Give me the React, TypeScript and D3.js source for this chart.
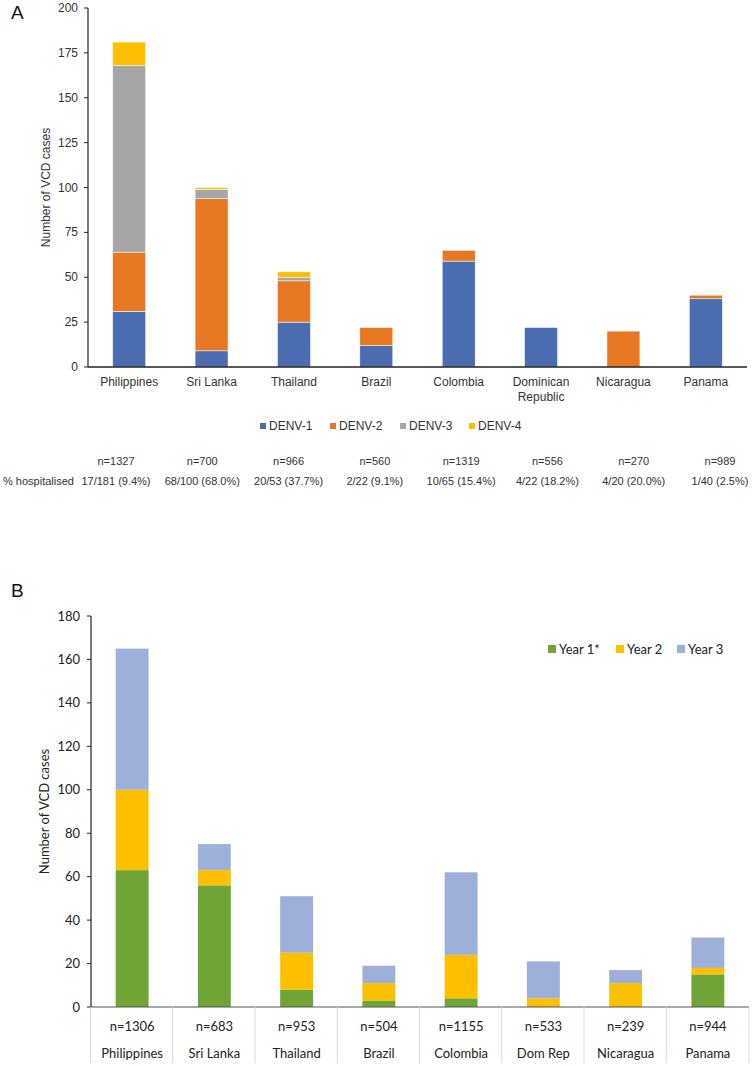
import React from "react";
import * as d3 from "d3";

// ---------- Panel A data ----------
const countriesA = ["Philippines", "Sri Lanka", "Thailand", "Brazil", "Colombia", "Dominican Republic", "Nicaragua", "Panama"];
const seroKeys = ["DENV-1", "DENV-2", "DENV-3", "DENV-4"];
const denv1 = [31, 9, 25, 12, 59, 22, 0, 38];
const denv2 = [33, 85, 23, 10, 6, 0, 20, 2];
const denv3 = [104, 5, 2, 0, 0, 0, 0, 0];
const denv4 = [13, 1, 3, 0, 0, 0, 0, 0];
const seroColors = ["#4a6db1", "#e67824", "#a7a5a5", "#fcc000"];
const ticksA = [0, 25, 50, 75, 100, 125, 150, 175, 200];
const nA = ["n=1327", "n=700", "n=966", "n=560", "n=1319", "n=556", "n=270", "n=989"];
const hospA = ["17/181 (9.4%)", "68/100 (68.0%)", "20/53 (37.7%)", "2/22 (9.1%)", "10/65 (15.4%)", "4/22 (18.2%)", "4/20 (20.0%)", "1/40 (2.5%)"];

// ---------- Panel B data ----------
const countriesB = ["Philippines", "Sri Lanka", "Thailand", "Brazil", "Colombia", "Dom Rep", "Nicaragua", "Panama"];
const yearKeys = ["Year 1*", "Year 2", "Year 3"];
const year1 = [63, 56, 8, 3, 4, 0, 0, 15];
const year2 = [37, 7, 17, 8, 20, 4, 11, 3];
const year3 = [65, 12, 26, 8, 38, 17, 6, 14];
const yearColors = ["#6fa536", "#fcc000", "#9db0da"];
const ticksB = [0, 20, 40, 60, 80, 100, 120, 140, 160, 180];
const nB = ["n=1306", "n=683", "n=953", "n=504", "n=1155", "n=533", "n=239", "n=944"];

const FA = "Arial, 'Liberation Sans', Helvetica, sans-serif";
const FB = "Lato, 'Open Sans', sans-serif";

export default function App() {
  // Panel A
  const rowsA = countriesA.map((c, i) => ({ c, "DENV-1": denv1[i], "DENV-2": denv2[i], "DENV-3": denv3[i], "DENV-4": denv4[i] }));
  const stackA = d3.stack<any>().keys(seroKeys)(rowsA);
  const xA = d3.scaleBand().domain(countriesA).range([88, 747]).paddingInner(0.6).paddingOuter(0.3);
  const yA = d3.scaleLinear().domain([0, 200]).range([367, 8]);
  const tableX = d3.scalePoint().domain(countriesA).range([116, 720]);

  // Panel B
  const rowsB = countriesB.map((c, i) => ({ c, "Year 1*": year1[i], "Year 2": year2[i], "Year 3": year3[i] }));
  const stackB = d3.stack<any>().keys(yearKeys)(rowsB);
  const xB = d3.scaleBand().domain(countriesB).range([91, 749]).paddingInner(0.6).paddingOuter(0.3);
  const yB = d3.scaleLinear().domain([0, 180]).range([1007, 616]);
  const legendAX = [260, 330, 400, 469];
  const legendBX = [548, 616, 677];

  return (
    <svg width={755} height={1066} style={{ position: "absolute", left: 0, top: 0, background: "#fff" }}>
      {/* ===== Panel A ===== */}
      <text x={11} y={19} fontFamily={FA} fontSize={19} fill="#111">A</text>
      {stackA.map((layer, li) => (
        <g key={layer.key}>
          {layer.map((d, i) =>
            d[1] - d[0] > 0 ? (
              <rect key={i} x={xA(countriesA[i])} width={xA.bandwidth()} y={yA(d[1])} height={yA(d[0]) - yA(d[1])}
                fill={seroColors[li]} stroke="#fff" strokeWidth={0.5} />
            ) : null
          )}
        </g>
      ))}
      <line x1={88} x2={88} y1={8} y2={367} stroke="#222" strokeWidth={1.2} />
      <line x1={88} x2={747} y1={367} y2={367} stroke="#222" strokeWidth={1.5} />
      {ticksA.map((t) => (
        <g key={t}>
          <line x1={84} x2={88} y1={yA(t)} y2={yA(t)} stroke="#222" strokeWidth={1} />
          <text x={78} y={yA(t) + 4} textAnchor="end" fontFamily={FA} fontSize={12} fill="#333">{t}</text>
        </g>
      ))}
      <text transform={`translate(50,${(yA(0) + yA(200)) / 2}) rotate(-90)`} textAnchor="middle" fontFamily={FA} fontSize={12} fill="#333">Number of VCD cases</text>
      {countriesA.map((c) => {
        const cx = (xA(c) as number) + xA.bandwidth() / 2;
        const parts = c === "Dominican Republic" ? ["Dominican", "Republic"] : [c];
        return (
          <text key={c} x={cx} y={386} textAnchor="middle" fontFamily={FA} fontSize={12} fill="#333">
            {parts.map((p, j) => (
              <tspan key={j} x={cx} dy={j === 0 ? 0 : 15}>{p}</tspan>
            ))}
          </text>
        );
      })}
      {seroKeys.map((k, i) => (
        <g key={k}>
          <rect x={legendAX[i]} y={423} width={6} height={6} fill={seroColors[i]} />
          <text x={legendAX[i] + 9} y={430} fontFamily={FA} fontSize={12} fill="#333">{k}</text>
        </g>
      ))}
      {countriesA.map((c, i) => (
        <g key={c}>
          <text x={tableX(c)} y={465} textAnchor="middle" fontFamily={FA} fontSize={11} fill="#333">{nA[i]}</text>
          <text x={tableX(c)} y={485} textAnchor="middle" fontFamily={FA} fontSize={11} fill="#333">{hospA[i]}</text>
        </g>
      ))}
      <text x={3} y={485} fontFamily={FA} fontSize={11} fill="#333">% hospitalised</text>

      {/* ===== Panel B ===== */}
      <text x={11} y={597} fontFamily={FA} fontSize={19} fill="#111">B</text>
      {stackB.map((layer, li) => (
        <g key={layer.key}>
          {layer.map((d, i) =>
            d[1] - d[0] > 0 ? (
              <rect key={i} x={xB(countriesB[i])} width={xB.bandwidth()} y={yB(d[1])} height={yB(d[0]) - yB(d[1])}
                fill={yearColors[li]} />
            ) : null
          )}
        </g>
      ))}
      <line x1={91} x2={91} y1={616} y2={1007} stroke="#222" strokeWidth={1.2} />
      <line x1={91} x2={749} y1={1007} y2={1007} stroke="#555" strokeWidth={1.2} />
      {ticksB.map((t) => (
        <g key={t}>
          <line x1={87} x2={91} y1={yB(t)} y2={yB(t)} stroke="#222" strokeWidth={1} />
          <text x={80} y={yB(t) + 4.5} textAnchor="end" fontFamily={FB} fontSize={13} fill="#222">{t}</text>
        </g>
      ))}
      <text transform={`translate(49,${(yB(0) + yB(180)) / 2}) rotate(-90)`} textAnchor="middle" fontFamily={FB} fontSize={13} fill="#222">Number of VCD cases</text>
      {countriesB.map((c, i) => {
        const x0 = (xB(c) as number) - xB.step() * xB.paddingInner() / 2 - 0.5;
        const cx = (xB(c) as number) + xB.bandwidth() / 2;
        return (
          <g key={c}>
            <line x1={x0} x2={x0} y1={1007} y2={1063} stroke="#d9d9d9" strokeWidth={1} />
            <text x={cx} y={1031} textAnchor="middle" fontFamily={FB} fontSize={13} fill="#222">{nB[i]}</text>
            <text x={cx} y={1058} textAnchor="middle" fontFamily={FB} fontSize={13} fill="#222">{c}</text>
          </g>
        );
      })}
      <line x1={749} x2={749} y1={1007} y2={1063} stroke="#d9d9d9" strokeWidth={1} />
      {yearKeys.map((k, i) => (
        <g key={k}>
          <rect x={legendBX[i]} y={645} width={8} height={8} fill={yearColors[i]} />
          <text x={legendBX[i] + 11} y={654} fontFamily={FB} fontSize={13} fill="#222">{k}</text>
        </g>
      ))}
    </svg>
  );
}
